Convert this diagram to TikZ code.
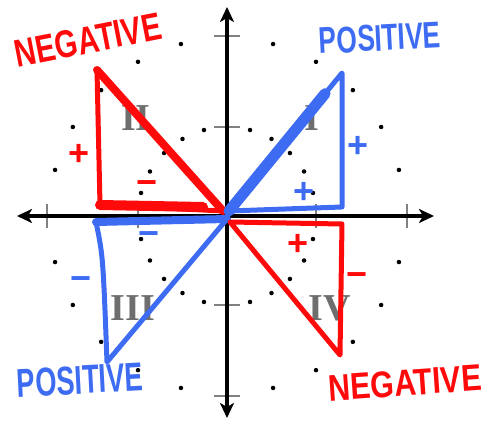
\documentclass[tikz,border=0pt]{standalone}
\usepackage{fontspec}
\setmainfont{Liberation Serif}
\newfontfamily\handfont{Liberation Sans}
\usetikzlibrary{arrows.meta, calc}
\definecolor{sketch-red}{HTML}{FF0A0A}
\definecolor{sketch-blue}{HTML}{3D6CF2}
\definecolor{numeral-gray}{HTML}{6E6E6E}

\begin{document}
\begin{tikzpicture}[x=1pt, y=1pt,
    axis/.style={line width=3.2pt,
      {Stealth[length=15pt, width=14pt, inset=4pt]}-{Stealth[length=15pt, width=14pt, inset=4pt]}},
    tick/.style={line width=1.4pt, black!50},
    griddot/.style={circle, fill=black, inner sep=0pt, minimum size=4.5pt},
    quadrant/.style={font=\bfseries\fontsize{38}{38}\selectfont, text=numeral-gray},
    redtri/.style={draw=sketch-red, line width=5pt, line join=round, line cap=round},
    bluetri/.style={draw=sketch-blue, line width=5pt, line join=round, line cap=round},
    sign/.style={font=\handfont\bfseries\fontsize{36}{36}\selectfont, inner sep=0pt},
    word/.style={font=\handfont\bfseries\fontsize{31}{31}\selectfont, inner sep=0pt}]
    \useasboundingbox (-227,-214) rectangle (268,216);

    % dots on the two circles, every 15 degrees
    \foreach \q in {0,90,180,270}
      \foreach \a in {15,30,45,60,75}
        \foreach \r in {89,178}
          \node[griddot] (dot-\q-\a-\r) at (\q+\a:\r) {};

    \foreach \t in {-180,-89,89,180} {
      \draw[tick] (\t,-12) -- (\t,12);
      \draw[tick] (-13,\t) -- (13,\t);
    }
    \draw[axis] (-210,0) -- (207,0);
    \draw[axis] (0,-202) -- (0,209);

    \node[quadrant] (num-i) at (85,98) {I};
    \node[quadrant] (num-ii) at (-91,98) {II};
    \node[quadrant] (num-iii) at (-94,-92) {III};
    \node[quadrant] (num-iv) at (103,-92) {IV};

    % quadrant II
    \coordinate (q2-tip) at (-4,5);
    \coordinate (q2-top) at (-130,146);
    \coordinate (q2-foot) at (-127,11);
    \draw[redtri] (q2-tip) -- (q2-top) -- (q2-foot) -- cycle;
    \draw[redtri, line width=8pt] (q2-top) -- (q2-tip);
    \draw[redtri, line width=10pt] (q2-foot) -- ($(q2-tip)+(-20,4)$);

    % quadrant I
    \coordinate (q1-tip) at (2,5);
    \coordinate (q1-top) at (115,143);
    \coordinate (q1-foot) at (115,9);
    \draw[bluetri] (q1-tip) -- (q1-top) -- (q1-foot) -- cycle;
    \draw[bluetri, line width=11pt] (q1-tip) -- ($(q1-tip)!0.85!(q1-top)$);

    % quadrant III
    \coordinate (q3-tip) at (0,-3);
    \coordinate (q3-corner) at (-131,-6);
    \coordinate (q3-foot) at (-120,-146);
    \draw[bluetri] (q3-tip) -- (q3-corner)
      .. controls (-124,-40) .. (q3-foot) -- cycle;
    \draw[bluetri, line width=8pt] (q3-corner) -- (q3-tip);

    % quadrant IV
    \coordinate (q4-tip) at (3,-6);
    \coordinate (q4-corner) at (115,-8);
    \coordinate (q4-foot) at (113,-139);
    \draw[redtri] (q4-tip) -- (q4-corner) -- (q4-foot) -- cycle;

    \node[sign, text=sketch-red] (s2-side) at (-148,61) {+};
    \node[sign, text=sketch-red] (s2-base) at (-80,28) {−};
    \node[sign, text=sketch-blue] (s1-side) at (131,69) {+};
    \node[sign, text=sketch-blue] (s1-base) at (77,23) {+};
    \node[sign, text=sketch-blue] (s3-base) at (-78,-23) {−};
    \node[sign, text=sketch-blue] (s3-side) at (-146,-68) {−};
    \node[sign, text=sketch-red] (s4-base) at (71,-29) {+};
    \node[sign, text=sketch-red] (s4-side) at (130,-64) {−};

    \node[word, text=sketch-red, rotate=11] (neg-top) at (-139,176)
      {\scalebox{.95}[1.25]{NEGATIVE}};
    \node[word, text=sketch-blue, rotate=3] (pos-top) at (153,178)
      {\scalebox{.85}[1.2]{POSITIVE}};
    \node[word, text=sketch-blue, rotate=3] (pos-bottom) at (-147,-164)
      {\scalebox{.88}[1.3]{POSITIVE}};
    \node[word, text=sketch-red, rotate=4] (neg-bottom) at (178,-167)
      {\scalebox{.98}[1.2]{NEGATIVE}};
\end{tikzpicture}
\end{document}
